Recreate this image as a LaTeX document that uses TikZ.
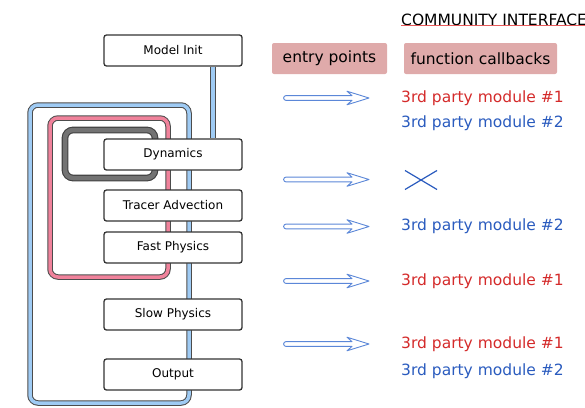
\documentclass[tikz,border=0pt]{standalone}
\usepackage{fontspec}
\setmainfont{DejaVu Sans}
\usetikzlibrary{arrows.meta,positioning}
\definecolor{loopblue}{HTML}{9FCBF4}
\definecolor{looppink}{HTML}{F0829B}
\definecolor{loopgray}{HTML}{737373}
\definecolor{tagpink}{HTML}{DFAAAA}
\definecolor{arrowblue}{HTML}{5B87D8}
\definecolor{modred}{HTML}{D42A2A}
\definecolor{modblue}{HTML}{2A5BBE}
\definecolor{linered}{HTML}{E85A5A}

\begin{document}
\begin{tikzpicture}[x=1pt, y=-1pt,
	stage/.style={draw=black!80, line width=1.3pt, fill=white, rounded corners=2.5pt,
		minimum width=138pt, minimum height=31pt, inner sep=0pt,
		font=\fontsize{12}{14}\selectfont},
	tag/.style={fill=tagpink, rounded corners=2pt, minimum height=31pt, inner sep=0pt,
		font=\fontsize{15.5}{18}\selectfont},
	module/.style={anchor=west, inner sep=0pt, font=\fontsize{15.5}{18}\selectfont},
	bigloop/.style={draw=black!70, line width=1pt, double=loopblue, double distance=3.5pt, rounded corners=8pt},
	midloop/.style={draw=black!70, line width=1pt, double=looppink, double distance=3.5pt, rounded corners=8pt},
	smallloop/.style={draw=black!75, line width=1.1pt, double=loopgray, double distance=4.5pt, rounded corners=8pt},
	entry/.style={draw=arrowblue, line width=0.9pt, fill=white, line join=round, to path={
		([yshift=-2.4pt]\tikztostart) -- ([xshift=-17pt, yshift=-2.4pt]\tikztotarget)
		-- ([xshift=-22pt, yshift=-6.8pt]\tikztotarget) -- (\tikztotarget)
		-- ([xshift=-22pt, yshift=6.8pt]\tikztotarget) -- ([xshift=-17pt, yshift=2.4pt]\tikztotarget)
		-- ([yshift=2.4pt]\tikztostart) arc (90:270:2.4pt) -- cycle}}]
			\useasboundingbox (0,0) rectangle (585,407);

			% time loops
			\draw[bigloop] (30,105) rectangle (189,403);
			\draw[midloop] (50,118) rectangle (168,277);
			\draw[smallloop] (65,130) rectangle (155,178);

			% model stages
			\node[stage] (init) at (173,50.5) {Model Init};
			\node[stage] (dyn) at (173,154.5) {Dynamics};
			\node[stage] (adv) at (173,205.5) {Tracer Advection};
			\node[stage] (fast) at (173,247.5) {Fast Physics};
			\node[stage] (slow) at (173,314.5) {Slow Physics};
			\node[stage] (out) at (173,374.5) {Output};

			\draw[draw=black!70, line width=1pt, double=loopblue, double distance=3.5pt]
				([xshift=40pt]init.south) -- ([xshift=40pt]dyn.north);

			% community interface
			\node[inner sep=0pt, anchor=base west, font=\fontsize{15.5}{18}\selectfont] (ci) at (401,25) {COMMUNITY INTERFACE};
			\draw[draw=linered, line width=1pt] ([yshift=-0.5pt]ci.south west) -- ([yshift=-0.5pt]ci.south east);

			\node[tag, minimum width=115pt] (ep) at (329.5,58.5) {entry points};
			\node[tag, minimum width=153pt] (cb) at (480.5,58.5) {function callbacks};

			% entry points
			\coordinate (e1) at (286,98);
			\coordinate (f1) at (369,98);
			\coordinate (e2) at (286,179.5);
			\coordinate (f2) at (369,179.5);
			\coordinate (e3) at (286,226.5);
			\coordinate (f3) at (369,226.5);
			\coordinate (e4) at (286,281);
			\coordinate (f4) at (369,281);
			\coordinate (e5) at (286,344);
			\coordinate (f5) at (369,344);

			\draw[entry] (e1) to (f1);
			\draw[entry] (e2) to (f2);
			\draw[entry] (e3) to (f3);
			\draw[entry] (e4) to (f4);
			\draw[entry] (e5) to (f5);

			% callbacks
			\node[module, text=modred] (m1) at (401,98) {3rd party module \#1};
			\node[module, text=modblue] (m2) at (401,123) {3rd party module \#2};
			\coordinate (none) at (421,180);
			\draw[modblue, line width=1.2pt] ([shift={(-16,-9.5)}]none) -- ([shift={(16,9.5)}]none);
			\draw[modblue, line width=1.2pt] ([shift={(-16,9.5)}]none) -- ([shift={(16,-9.5)}]none);
			\node[module, text=modblue] (m3) at (401,226.5) {3rd party module \#2};
			\node[module, text=modred] (m4) at (401,281) {3rd party module \#1};
			\node[module, text=modred] (m5) at (401,344) {3rd party module \#1};
			\node[module, text=modblue] (m6) at (401,371) {3rd party module \#2};
\end{tikzpicture}
\end{document}
